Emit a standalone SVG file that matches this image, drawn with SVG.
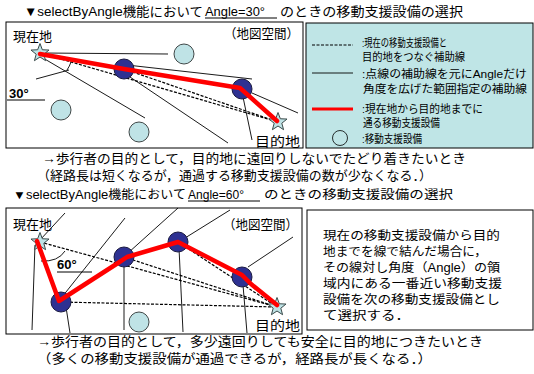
<svg xmlns="http://www.w3.org/2000/svg" width="534" height="374" viewBox="0 0 534 374">
<defs>
<path id="star" d="M0,-9.5 L2.35,-3.24 9.03,-2.94 3.8,1.23 5.58,7.69 0,4 -5.58,7.69 -3.8,1.23 -9.03,-2.94 -2.35,-3.24 Z" fill="#BFE3E6" stroke="#3a4a4a" stroke-width="1"/>
</defs>
<style>
text{font-family:"Liberation Sans","Noto Sans CJK JP",sans-serif;fill:#000}
.t13{font-size:13px}
.t12{font-size:12px}
.t11{font-size:11px}
.b{font-weight:bold}
.thin{stroke:#000;stroke-width:0.9;fill:none}
.dash{stroke:#000;stroke-width:1.2;stroke-dasharray:3 1.5;fill:none}
.red{stroke:#FF0000;stroke-width:4.5;fill:none;stroke-linejoin:round;stroke-linecap:round}
.fac{fill:#2E3192;stroke:#1a1a40;stroke-width:1}
.pale{fill:#BFE3E6;stroke:#404848;stroke-width:1}
.box{fill:#fff;stroke:#000;stroke-width:1}
</style>
<rect width="534" height="374" fill="#fff"/>

<g id="title1">
<text class="t13" x="24" y="16" textLength="179" lengthAdjust="spacingAndGlyphs">▼selectByAngle機能において</text>
<text class="t13" x="205" y="16" textLength="60" lengthAdjust="spacingAndGlyphs">Angle=30°</text>
<line x1="205" y1="18" x2="277" y2="18" stroke="#000" stroke-width="1"/>
<text class="t13" x="280" y="16" textLength="183" lengthAdjust="spacingAndGlyphs">のときの移動支援設備の選択</text>
</g>

<g id="map1">
<rect class="box" x="6" y="22" width="297" height="126"/>
<text class="t13" x="13" y="41">現在地</text>
<text class="t13" x="224" y="38" textLength="75" lengthAdjust="spacingAndGlyphs">（地図空間）</text>
<text class="t13" x="255" y="146" textLength="45" lengthAdjust="spacingAndGlyphs">目的地</text>
<text class="t13 b" x="9" y="98">30°</text>
<line x1="7" y1="100" x2="45" y2="100" stroke="#000" stroke-width="1"/>
</g>
<g id="connectors1">
<line class="thin" x1="43" y1="53" x2="168" y2="54"/>
<line class="thin" x1="43" y1="58" x2="145" y2="118"/>
<line class="thin" x1="36" y1="79" x2="69" y2="70"/>
<path class="thin" d="M71,62 A32,32 0 0 1 67,70"/>
<line class="thin" x1="127" y1="65" x2="252" y2="79"/>
<line class="thin" x1="127" y1="75" x2="228" y2="143"/>
<line class="thin" x1="243" y1="97" x2="252" y2="140"/>
<line class="thin" x1="252" y1="93" x2="298" y2="113"/>
<line class="dash" x1="40" y1="53" x2="278" y2="122"/>
<line class="dash" x1="124" y1="69" x2="278" y2="122"/>
<line class="dash" x1="242" y1="89" x2="278" y2="122"/>
</g>
<g id="m1-pale1"><circle class="pale" cx="184" cy="54" r="10"/></g>
<g id="m1-pale2"><circle class="pale" cx="61" cy="110" r="10"/></g>
<g id="m1-pale3"><circle class="pale" cx="139" cy="132" r="10"/></g>
<g id="m1-fac1"><circle class="fac" cx="124" cy="69" r="10"/></g>
<g id="m1-fac2"><circle class="fac" cx="242" cy="89" r="10"/></g>
<g id="m1-start"><use href="#star" x="40" y="53"/></g>
<g id="m1-goal"><use href="#star" x="278" y="122"/></g>
<g id="route1"><polyline class="red" points="40,54 124,69 240,88 277,121"/></g>

<g id="legend">
<rect x="306" y="23" width="227" height="125" fill="#BFE5E6" stroke="#000" stroke-width="1"/>
<line class="dash" x1="312" y1="45" x2="353" y2="45"/>
<text class="t11" x="362" y="47" textLength="85" lengthAdjust="spacingAndGlyphs">:現在の移動支援設備と</text>
<text class="t11" x="362" y="61" textLength="103" lengthAdjust="spacingAndGlyphs">目的地をつなぐ補助線</text>
<line class="thin" x1="312" y1="73" x2="353" y2="73"/>
<text class="t11" x="362" y="78" textLength="165" lengthAdjust="spacingAndGlyphs">:点線の補助線を元にAngleだけ</text>
<text class="t11" x="363" y="93" textLength="164" lengthAdjust="spacingAndGlyphs">角度を広げた範囲指定の補助線</text>
<line x1="312" y1="109" x2="353" y2="109" stroke="#FF0000" stroke-width="3"/>
<text class="t11" x="362" y="113" textLength="121" lengthAdjust="spacingAndGlyphs">:現在地から目的地までに</text>
<text class="t11" x="363" y="127" textLength="77" lengthAdjust="spacingAndGlyphs">通る移動支援設備</text>
<circle cx="340" cy="138" r="7.5" fill="#BFE5E6" stroke="#000" stroke-width="0.8"/>
<text class="t11" x="362" y="143" textLength="60" lengthAdjust="spacingAndGlyphs">:移動支援設備</text>
</g>

<g id="caption1">
<text class="t13" x="42" y="163" textLength="424" lengthAdjust="spacingAndGlyphs">→歩行者の目的として，目的地に遠回りしないでたどり着きたいとき</text>
<text class="t13" x="37" y="180" textLength="395" lengthAdjust="spacingAndGlyphs">（経路長は短くなるが，通過する移動支援設備の数が少なくなる．）</text>
</g>

<g id="title2">
<text class="t12" x="13" y="199" textLength="173" lengthAdjust="spacingAndGlyphs">▼selectByAngle機能において</text>
<text class="t12" x="188" y="199" textLength="56" lengthAdjust="spacingAndGlyphs">Angle=60°</text>
<line x1="188" y1="201" x2="260" y2="201" stroke="#000" stroke-width="1"/>
<text class="t12" x="264" y="199" textLength="189" lengthAdjust="spacingAndGlyphs">のときの移動支援設備の選択</text>
</g>

<g id="map2">
<rect class="box" x="6" y="208" width="296" height="126"/>
<text class="t13" x="13" y="229">現在地</text>
<text class="t13" x="223" y="229" textLength="75" lengthAdjust="spacingAndGlyphs">（地図空間）</text>
<text class="t13" x="255" y="330" textLength="45" lengthAdjust="spacingAndGlyphs">目的地</text>
<text class="t13 b" x="57" y="269">60°</text>
<line x1="57" y1="272" x2="92" y2="272" stroke="#000" stroke-width="1"/>
</g>
<g id="connectors2">
<line class="thin" x1="40" y1="240" x2="65" y2="213"/>
<line class="thin" x1="35" y1="245" x2="32" y2="330"/>
<line class="thin" x1="62" y1="297" x2="125" y2="218"/>
<line class="thin" x1="66" y1="307" x2="70" y2="333"/>
<line class="thin" x1="128" y1="253" x2="178" y2="208"/>
<line class="thin" x1="124" y1="262" x2="124" y2="330"/>
<line class="thin" x1="185" y1="238" x2="230" y2="210"/>
<line class="thin" x1="179" y1="248" x2="183" y2="332"/>
<line class="thin" x1="248" y1="267" x2="293" y2="237"/>
<line class="thin" x1="243" y1="285" x2="247" y2="333"/>
<path class="thin" d="M41,261 Q58,262 65,251"/>
<line class="dash" x1="40" y1="242" x2="277" y2="307"/>
<line class="dash" x1="61" y1="302" x2="277" y2="307"/>
<line class="dash" x1="124" y1="257" x2="277" y2="307"/>
<line class="dash" x1="178" y1="242" x2="277" y2="307"/>
<line class="dash" x1="242" y1="277" x2="277" y2="307"/>
</g>
<g id="m2-pale1"><circle class="pale" cx="139" cy="322" r="10"/></g>
<g id="m2-fac1"><circle class="fac" cx="61" cy="302" r="10"/></g>
<g id="m2-fac2"><circle class="fac" cx="124" cy="257" r="10"/></g>
<g id="m2-fac3"><circle class="fac" cx="178" cy="242" r="10"/></g>
<g id="m2-fac4"><circle class="fac" cx="242" cy="277" r="10"/></g>
<g id="m2-start"><use href="#star" x="40" y="242"/></g>
<g id="m2-goal"><use href="#star" x="277" y="307"/></g>
<g id="route2"><polyline class="red" points="37,241 59,301 118,263 127,257 178,242 242,275 251,284 277,305"/></g>

<g id="explain">
<rect class="box" x="307" y="210" width="226" height="120"/>
<text class="t12" x="323" y="240" textLength="177" lengthAdjust="spacingAndGlyphs">現在の移動支援設備から目的</text>
<text class="t12" x="323" y="256" textLength="164" lengthAdjust="spacingAndGlyphs">地までを線で結んだ場合に，</text>
<text class="t12" x="323" y="272" textLength="177" lengthAdjust="spacingAndGlyphs">その線対し角度（Angle）の領</text>
<text class="t12" x="323" y="288" textLength="179" lengthAdjust="spacingAndGlyphs">域内にある一番近い移動支援</text>
<text class="t12" x="323" y="304" textLength="177" lengthAdjust="spacingAndGlyphs">設備を次の移動支援設備とし</text>
<text class="t12" x="323" y="320" textLength="87" lengthAdjust="spacingAndGlyphs">て選択する．</text>
</g>

<g id="caption2">
<text class="t13" x="37" y="346" textLength="446" lengthAdjust="spacingAndGlyphs">→歩行者の目的として，多少遠回りしても安全に目的地につきたいとき</text>
<text class="t13" x="37" y="363" textLength="395" lengthAdjust="spacingAndGlyphs">（多くの移動支援設備が通過できるが，経路長が長くなる．）</text>
</g>
</svg>
